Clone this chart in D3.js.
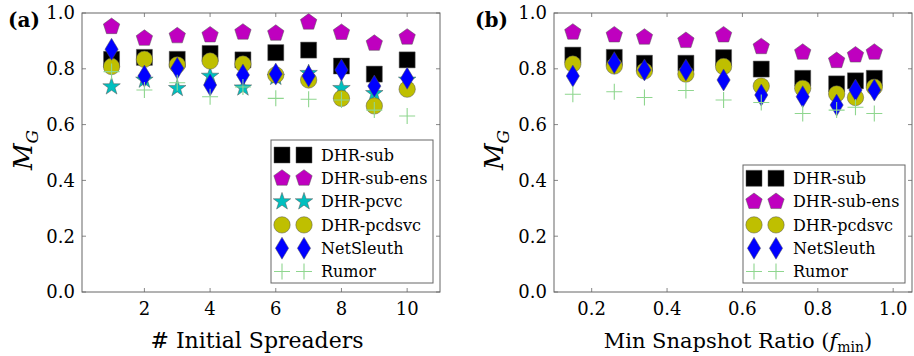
<!DOCTYPE html>
<html>
<head>
<meta charset="utf-8">
<script src="https://d3js.org/d3.v7.min.js"></script>
<style>
  body { margin: 0; background: #fff; }
  text { font-family: "DejaVu Serif", serif; fill: #000; }
</style>
</head>
<body>
<svg id="fig" width="914" height="356"></svg>
<script>
  // ---- data (a): number of initial spreaders ----
  var spreaders = [1, 2, 3, 4, 5, 6, 7, 8, 9, 10];
  var a_sub    = [0.834, 0.841, 0.834, 0.855, 0.832, 0.858, 0.867, 0.810, 0.781, 0.832];
  var a_ens    = [0.951, 0.909, 0.918, 0.921, 0.931, 0.927, 0.967, 0.930, 0.891, 0.913];
  var a_pcvc   = [0.736, 0.760, 0.730, 0.774, 0.732, 0.770, 0.784, 0.730, 0.712, 0.760];
  var a_pcdsvc = [0.808, 0.834, 0.814, 0.828, 0.817, 0.778, 0.760, 0.694, 0.667, 0.727];
  var a_net    = [0.870, 0.774, 0.802, 0.742, 0.778, 0.781, 0.774, 0.796, 0.738, 0.766];
  var a_rumor  = [0.790, 0.724, 0.750, 0.700, 0.735, 0.694, 0.691, 0.688, 0.652, 0.631];

  // ---- data (b): min snapshot ratio ----
  var ratios   = [0.15, 0.26, 0.34, 0.45, 0.55, 0.65, 0.76, 0.85, 0.90, 0.95];
  var b_sub    = [0.849, 0.841, 0.820, 0.820, 0.840, 0.799, 0.766, 0.746, 0.757, 0.766];
  var b_ens    = [0.931, 0.921, 0.913, 0.901, 0.921, 0.879, 0.859, 0.829, 0.849, 0.859];
  var b_pcdsvc = [0.817, 0.810, 0.792, 0.781, 0.808, 0.738, 0.730, 0.710, 0.697, 0.734];
  var b_net    = [0.774, 0.822, 0.796, 0.796, 0.760, 0.706, 0.700, 0.670, 0.724, 0.724];
  var b_rumor  = [0.709, 0.718, 0.697, 0.722, 0.688, 0.679, 0.640, 0.652, 0.662, 0.640];

  var yTicks = [0.0, 0.2, 0.4, 0.6, 0.8, 1.0];
  var aTicks = [2, 4, 6, 8, 10];
  var bTicks = [0.2, 0.4, 0.6, 0.8, 1.0];

  var styles = {
    "DHR-sub":     {marker: "square",   color: "#000000"},
    "DHR-sub-ens": {marker: "pentagon", color: "#bf00bf"},
    "DHR-pcvc":    {marker: "star",     color: "#00bfbf"},
    "DHR-pcdsvc":  {marker: "circle",   color: "#bfbf00"},
    "NetSleuth":   {marker: "diamond",  color: "#0000ff"},
    "Rumor":       {marker: "plus",     color: "#8fd68f"}
  };

  function markerPath(kind) {
    var p = d3.path(), i, a, r;
    if (kind == "square") {
      p.rect(-8, -8, 16, 16);
    } else if (kind == "circle") {
      p.arc(0, 0, 8.2, 0, 2 * Math.PI);
    } else if (kind == "diamond") {
      p.moveTo(0, -11); p.lineTo(6.6, 0); p.lineTo(0, 11); p.lineTo(-6.6, 0); p.closePath();
    } else if (kind == "pentagon") {
      for (i = 0; i < 5; i++) {
        a = -Math.PI / 2 + i * 2 * Math.PI / 5;
        if (i == 0) p.moveTo(8.6 * Math.cos(a), 8.6 * Math.sin(a));
        else p.lineTo(8.6 * Math.cos(a), 8.6 * Math.sin(a));
      }
      p.closePath();
    } else if (kind == "star") {
      for (i = 0; i < 10; i++) {
        a = -Math.PI / 2 + i * Math.PI / 5;
        r = i % 2 ? 3.6 : 9.2;
        if (i == 0) p.moveTo(r * Math.cos(a), r * Math.sin(a));
        else p.lineTo(r * Math.cos(a), r * Math.sin(a));
      }
      p.closePath();
    } else if (kind == "plus") {
      p.moveTo(-8, 0); p.lineTo(8, 0); p.moveTo(0, -8); p.lineTo(0, 8);
    }
    return p.toString();
  }

  function drawMarker(g, kind, color, x, y) {
    var m = g.append("path")
      .attr("d", markerPath(kind))
      .attr("transform", "translate(" + x + "," + y + ")");
    if (kind == "plus") {
      m.attr("fill", "none").attr("stroke", color).attr("stroke-width", 1.1);
    } else {
      m.attr("fill", color).attr("stroke", "#555").attr("stroke-width", 0.5);
    }
  }

  var svg = d3.select("#fig");
  var plotTop = 13, plotBottom = 292;

  function panel(opt) {
    var x = d3.scaleLinear().domain(opt.domain).range([opt.left, opt.right]);
    var y = d3.scaleLinear().domain([0, 1]).range([plotBottom, plotTop]);
    var g = svg.append("g");

    // inward ticks on all four sides
    var tickCol = "#888";
    opt.ticks.forEach(function(t) {
      g.append("line").attr("x1", x(t)).attr("x2", x(t)).attr("y1", plotBottom).attr("y2", plotBottom - 4).attr("stroke", tickCol);
      g.append("line").attr("x1", x(t)).attr("x2", x(t)).attr("y1", plotTop).attr("y2", plotTop + 4).attr("stroke", tickCol);
      g.append("text").attr("x", x(t)).attr("y", 315).attr("text-anchor", "middle")
        .attr("font-size", 18).text(opt.fmt(t));
    });
    yTicks.forEach(function(t) {
      g.append("line").attr("x1", opt.left).attr("x2", opt.left + 4).attr("y1", y(t)).attr("y2", y(t)).attr("stroke", tickCol);
      g.append("line").attr("x1", opt.right).attr("x2", opt.right - 4).attr("y1", y(t)).attr("y2", y(t)).attr("stroke", tickCol);
      g.append("text").attr("x", opt.left - 7).attr("y", y(t)).attr("dy", "0.36em")
        .attr("text-anchor", "end").attr("font-size", 18).text(d3.format(".1f")(t));
    });

    // series, in legend order
    opt.series.forEach(function(s) {
      var st = styles[s.name];
      s.values.forEach(function(v, i) {
        drawMarker(g, st.marker, st.color, x(opt.xs[i]), y(v));
      });
    });

    g.append("rect").attr("x", opt.left).attr("y", plotTop)
      .attr("width", opt.right - opt.left).attr("height", plotBottom - plotTop)
      .attr("fill", "none").attr("stroke", "#666").attr("stroke-width", 1);

    // legend
    var lg = opt.legend;
    var lgG = g.append("g");
    lgG.append("rect").attr("x", lg.x0).attr("y", lg.y0)
      .attr("width", lg.x1 - lg.x0).attr("height", lg.y1 - lg.y0)
      .attr("fill", "#fff").attr("stroke", "#666").attr("stroke-width", 1);
    opt.series.forEach(function(s, i) {
      var st = styles[s.name];
      var ry = lg.row0 + i * 23.3;
      drawMarker(lgG, st.marker, st.color, lg.x0 + 11, ry);
      drawMarker(lgG, st.marker, st.color, lg.x0 + 33, ry);
      lgG.append("text").attr("x", lg.x0 + 50).attr("y", ry).attr("dy", "0.36em")
        .attr("font-size", 16).text(s.name);
    });

    // y label M_G
    var yl = g.append("text")
      .attr("transform", "translate(" + opt.ylabX + ",150) rotate(-90)")
      .attr("text-anchor", "middle")
      .attr("font-size", 26).attr("font-style", "italic");
    yl.append("tspan").text("M");
    yl.append("tspan").attr("font-size", 17).attr("dy", 6).text("G");

    // panel tag
    g.append("text").attr("x", opt.tagX).attr("y", 27).attr("font-size", 20)
      .attr("font-weight", "bold").text(opt.tag);
    return g;
  }

  panel({
    left: 82, right: 440, domain: [0.1, 11], ticks: aTicks, fmt: d3.format("d"),
    xs: spreaders, tag: "(a)", tagX: 8, ylabX: 32,
    series: [
      {name: "DHR-sub", values: a_sub},
      {name: "DHR-sub-ens", values: a_ens},
      {name: "DHR-pcvc", values: a_pcvc},
      {name: "DHR-pcdsvc", values: a_pcdsvc},
      {name: "NetSleuth", values: a_net},
      {name: "Rumor", values: a_rumor}
    ],
    legend: {x0: 271, x1: 433, y0: 140, y1: 283, row0: 155}
  });

  panel({
    left: 554, right: 912, domain: [0.1, 1.05], ticks: bTicks, fmt: d3.format(".1f"),
    xs: ratios, tag: "(b)", tagX: 475, ylabX: 503,
    series: [
      {name: "DHR-sub", values: b_sub},
      {name: "DHR-sub-ens", values: b_ens},
      {name: "DHR-pcdsvc", values: b_pcdsvc},
      {name: "NetSleuth", values: b_net},
      {name: "Rumor", values: b_rumor}
    ],
    legend: {x0: 743, x1: 905, y0: 165, y1: 283, row0: 178.3}
  });

  // x axis titles
  svg.append("text").attr("x", 257).attr("y", 348).attr("text-anchor", "middle")
    .attr("font-size", 22).text("# Initial Spreaders");
  var xt = svg.append("text").attr("x", 738).attr("y", 348).attr("text-anchor", "middle")
    .attr("font-size", 21);
  xt.append("tspan").text("Min Snapshot Ratio (");
  xt.append("tspan").attr("font-style", "italic").text("f");
  xt.append("tspan").attr("font-size", 14).attr("dy", 4).text("min");
  xt.append("tspan").attr("dy", -4).text(")");
</script>
</body>
</html>
